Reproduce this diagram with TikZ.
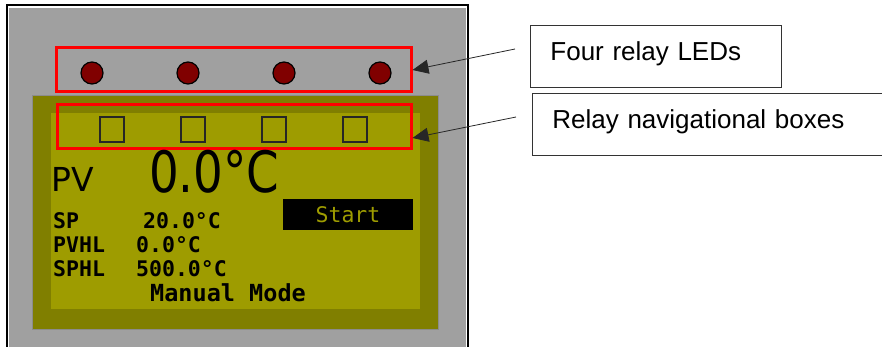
\documentclass[tikz,border=0pt]{standalone}
\usepackage{fontspec}
\usepackage{graphicx}
\usetikzlibrary{arrows.meta, positioning}
\setmainfont{Liberation Sans}
\newfontfamily\lcdmono{DejaVu Sans Mono}
\newfontfamily\lcdsans{DejaVu Sans}
\definecolor{panelgray}{HTML}{A0A0A0}
\definecolor{lcdframe}{HTML}{807F00}
\definecolor{lcdolive}{HTML}{9E9C00}
\definecolor{ledred}{HTML}{800000}
\definecolor{markred}{HTML}{FF0000}
\tikzset{
  redframe/.style={draw=markred, line width=3pt, inner sep=0pt},
  led/.style={circle, draw=black, line width=1.2pt, fill=ledred,
              minimum size=22pt, inner sep=0pt},
  navbox/.style={draw=black!85, line width=1.2pt, minimum width=24pt,
                 minimum height=25pt, inner sep=0pt},
  lcdtext/.style={anchor=base west, inner sep=0pt,
                  font=\lcdmono\bfseries\fontsize{21.5}{24}\selectfont},
  callout/.style={draw=black!80, line width=0.8pt, anchor=north west,
                  align=left, inner xsep=20pt, text height=19pt, text depth=10pt,
                  minimum height=62pt, font=\fontsize{26}{30}\selectfont},
  pointer/.style={draw=black!85, line width=0.8pt,
                  -{Triangle[length=16pt, width=14pt]}}
}

\begin{document}
\begin{tikzpicture}[x=1pt, y=-1pt]
    \useasboundingbox (0,0) rectangle (882,347);
    % instrument panel
    \fill[panelgray] (9,8) rectangle (466,347);
    \draw[line width=2pt] (6.5,347) |- (467.5,5.5) -- (467.5,347);

    % display
    \node[fill=lcdframe, draw=black!45, minimum width=406pt, minimum height=234pt,
          inner sep=0pt] (lcd) at (235,212) {};
    \node[fill=lcdolive, minimum width=369pt, minimum height=196pt,
          inner sep=0pt] (screen) at (235.5,211) {};

    % relay LEDs
    \node[redframe, minimum width=355pt, minimum height=44pt] (ledframe) at (233.5,70) {};
    \foreach \i/\x in {1/92, 2/188, 3/284, 4/380}
      \node[led] (led\i) at (\x,73) {};

    % navigation boxes
    \node[redframe, minimum width=354pt, minimum height=44pt] (navframe) at (234,127) {};
    \foreach \i/\x in {1/112, 2/193, 3/274, 4/355}
      \node[navbox] (nav\i) at (\x,129.5) {};

    % readings
    \node[anchor=base west, inner sep=0pt, font=\lcdsans\fontsize{33}{36}\selectfont]
      (pv) at (51,192) {PV};
    \node[anchor=base west, inner sep=0pt, font=\lcdsans\fontsize{57}{60}\selectfont]
      (pvvalue) at (149,193) {\scalebox{0.82}[1]{0.0°C}};
    \node[lcdtext] (sp) at (53,228) {SP};
    \node[lcdtext] (spvalue) at (143,228) {20.0°C};
    \node[lcdtext] (pvhl) at (53,252) {PVHL};
    \node[lcdtext] (pvhlvalue) at (136,252) {0.0°C};
    \node[lcdtext] (sphl) at (53,276.5) {SPHL};
    \node[lcdtext] (sphlvalue) at (136,276.5) {500.0°C};
    \node[lcdtext, font=\lcdmono\bfseries\fontsize{23.5}{26}\selectfont]
      (mode) at (150,301.5) {Manual Mode};
    \node[fill=black, minimum width=130pt, minimum height=31pt, inner sep=0pt,
          text=lcdolive, font=\lcdmono\fontsize{21.5}{24}\selectfont]
      (start) at (348,214.5) {Start};

    % callouts
    \node[callout, text width=211pt] (lednote) at (530,25) {Four relay LEDs};
    \node[callout, text width=318pt] (navnote) at (532,93) {Relay navigational boxes};
    \coordinate (ledtail) at (515,49);
    \coordinate (navtail) at (516,117);
    \draw[pointer] (ledtail) -- (ledframe.east);
    \draw[pointer] (navtail) -- ([yshift=-11pt]navframe.east);
\end{tikzpicture}
\end{document}
